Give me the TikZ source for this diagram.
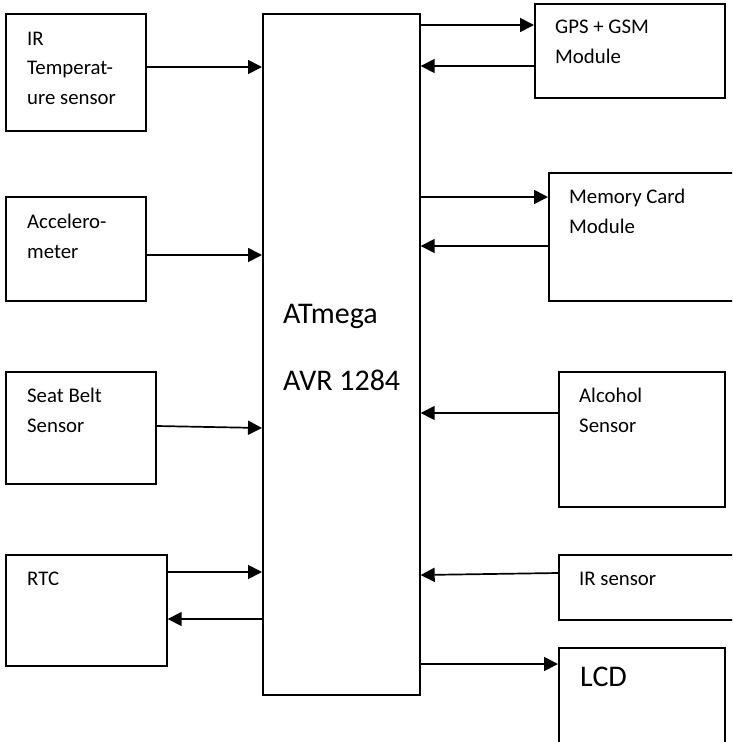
\documentclass[tikz,border=0pt]{standalone}
\usepackage{fontspec}
\setmainfont{Carlito}
\usetikzlibrary{arrows.meta}
\begin{document}
\begin{tikzpicture}[x=1pt,y=-1pt,
  box/.style={draw,line width=1.7pt,inner sep=0pt},
  lbl/.style={anchor=base west,inner sep=0pt,font=\fontsize{20.8}{29.5}\selectfont},
  big/.style={anchor=base west,inner sep=0pt,font=\fontsize{30}{34}\selectfont},
  conn/.style={line width=1.7pt,-{Triangle[length=14pt,width=14pt]}}]
\useasboundingbox (0,0) rectangle (732,742);
\clip (0,0) rectangle (732,742);
% boxes
\node[box,minimum width=157pt,minimum height=681pt,anchor=north west] (mcu) at (262,13) {};
\node[box,minimum width=140pt,minimum height=117pt,anchor=north west] (irt) at (5,13) {};
\node[box,minimum width=140pt,minimum height=104pt,anchor=north west] (acc) at (5,196) {};
\node[box,minimum width=150pt,minimum height=112pt,anchor=north west] (seat) at (5,371) {};
\node[box,minimum width=161pt,minimum height=111pt,anchor=north west] (rtc) at (5,554) {};
\node[box,minimum width=190pt,minimum height=94pt,anchor=north west] (gps) at (534,3) {};
\node[box,minimum width=192pt,minimum height=128pt,anchor=north west] (mem) at (548,172) {};
\node[box,minimum width=166pt,minimum height=135pt,anchor=north west] (alc) at (558,371) {};
\node[box,minimum width=182pt,minimum height=65pt,anchor=north west] (irs) at (558,554) {};
\node[box,minimum width=166pt,minimum height=105pt,anchor=north west] (lcd) at (558,647) {};
% texts
\node[big] (t1) at (283,323) {ATmega};
\node[big] (t2) at (283,390) {AVR 1284};
\node[lbl] (t3) at (27,45) {IR};
\node[lbl] (t4) at (27,74.5) {Temperat-};
\node[lbl] (t5) at (27,104) {ure sensor};
\node[lbl] (t6) at (27,228) {Accelero-};
\node[lbl] (t7) at (27,258) {meter};
\node[lbl] (t8) at (27,402) {Seat Belt};
\node[lbl] (t9) at (27,432) {Sensor};
\node[lbl] (t10) at (27,585) {RTC};
\node[lbl] (t11) at (555,33) {GPS + GSM};
\node[lbl] (t12) at (555,63) {Module};
\node[lbl] (t13) at (569,203) {Memory Card};
\node[lbl] (t14) at (569,233) {Module};
\node[lbl] (t15) at (579,402) {Alcohol};
\node[lbl] (t16) at (579,432) {Sensor};
\node[lbl] (t17) at (579,585) {IR sensor};
\node[big] (t18) at (580,686) {LCD};
% connectors
\draw[conn] (irt.east |- 0,67) -- (mcu.west |- 0,67);
\draw[conn] (acc.east |- 0,255) -- (mcu.west |- 0,255);
\draw[conn] (seat.east |- 0,426) -- (mcu.west |- 0,428);
\draw[conn] (rtc.east |- 0,572) -- (mcu.west |- 0,572);
\draw[conn] (mcu.west |- 0,619) -- (rtc.east |- 0,619);
\draw[conn] (mcu.east |- 0,25) -- (gps.west |- 0,25);
\draw[conn] (gps.west |- 0,66) -- (mcu.east |- 0,66);
\draw[conn] (mcu.east |- 0,197) -- (mem.west |- 0,197);
\draw[conn] (mem.west |- 0,246) -- (mcu.east |- 0,246);
\draw[conn] (alc.west |- 0,413) -- (mcu.east |- 0,413);
\draw[conn] (irs.west |- 0,573) -- (mcu.east |- 0,575);
\draw[conn] (mcu.east |- 0,664) -- (lcd.west |- 0,664);
\end{tikzpicture}
\end{document}
